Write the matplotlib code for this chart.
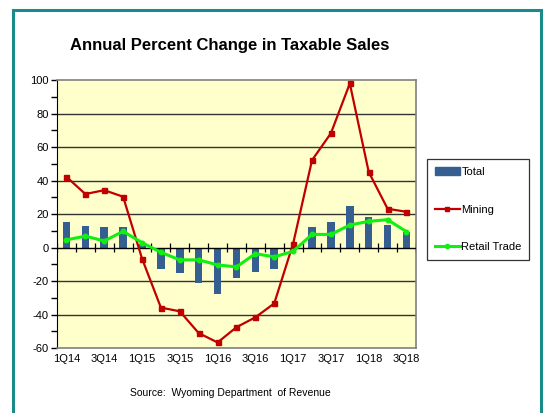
import matplotlib

matplotlib.use("Agg")
import matplotlib.pyplot as plt
import numpy as np
from matplotlib.lines import Line2D
from matplotlib.patches import Patch, Rectangle

plt.rcParams["font.family"] = ["Liberation Sans", "DejaVu Sans"]
plt.rcParams["axes.unicode_minus"] = False

quarters = [
    "1Q14", "2Q14", "3Q14", "4Q14",
    "1Q15", "2Q15", "3Q15", "4Q15",
    "1Q16", "2Q16", "3Q16", "4Q16",
    "1Q17", "2Q17", "3Q17", "4Q17",
    "1Q18", "2Q18", "3Q18",
]
total = [15.5, 13.1, 12.5, 12.5, 2.0, -13.0, -15.4, -21.0, -27.7, -18.4,
         -14.3, -12.7, -1.0, 12.1, 15.5, 24.6, 18.0, 13.3, 9.1]
mining = [42.3, 32.0, 34.3, 30.4, -6.5, -35.8, -38.0, -51.0, -56.6, -47.5,
          -41.6, -33.3, 2.4, 52.2, 68.3, 98.0, 45.2, 23.2, 21.4]
retail = [4.6, 6.9, 4.0, 9.7, 3.0, -2.8, -7.3, -7.3, -10.3, -11.5,
          -3.6, -5.5, -2.2, 7.9, 7.9, 13.5, 15.7, 16.7, 9.5]

BAR_COLOR = "#355e91"
RED = "#c00000"
GREEN = "#11ee11"
BG = "#ffffcc"

fig = plt.figure(figsize=(5.48, 4.13), dpi=100)
ax = fig.add_axes([0.104, 0.157, 0.655, 0.649])
ax.set_facecolor(BG)

x = np.arange(len(quarters))
ax.bar(x, total, width=0.4, color=BAR_COLOR, zorder=3)
ax.plot(x, mining, color=RED, lw=1.6, marker="s", ms=3.6, zorder=4)
ax.plot(x, retail, color=GREEN, lw=2.2, marker="o", ms=3.3, zorder=4)

# zero line with category boundary ticks
ax.axhline(0, color="black", lw=1.0, zorder=3.5)
ax.vlines(np.arange(len(quarters) + 1) - 0.5, -2.5, 2.5, color="black", lw=0.9, zorder=3.5)

ax.set_xlim(-0.5, len(quarters) - 0.5)
ax.set_ylim(-60, 100)
for yv in range(-40, 100, 20):
    if yv != 0:
        ax.axhline(yv, color="#333333", lw=1.0, zorder=1)

ax.set_yticks(range(-60, 101, 20))
ax.set_yticks(range(-60, 101, 10), minor=True)
ax.set_xticks(x[::2])
ax.set_xticklabels(quarters[::2])
ax.tick_params(axis="y", which="both", direction="out", length=4, width=1, labelsize=8, pad=2)
ax.tick_params(axis="x", length=0, labelsize=8, pad=4)

for side in ["top", "right"]:
    ax.spines[side].set_color("#808080")
    ax.spines[side].set_linewidth(1.2)
ax.spines["left"].set_color("black")
ax.spines["bottom"].set_color("#808080")
ax.spines["bottom"].set_linewidth(1.2)

fig.text(0.42, 0.891, "Annual Percent Change in Taxable Sales", ha="center", va="center",
         fontsize=12, fontweight="bold")
fig.text(0.42, 0.049, "Source:  Wyoming Department  of Revenue", ha="center", va="center",
         fontsize=7.5)

handles = [
    Patch(facecolor=BAR_COLOR, edgecolor=BAR_COLOR),
    Line2D([], [], color=RED, lw=1.6, marker="s", ms=3),
    Line2D([], [], color=GREEN, lw=2.2, marker="o", ms=3),
]
leg = fig.legend(handles, ["Total", "Mining", "Retail Trade"], loc="upper left",
                 bbox_to_anchor=(0.779, 0.615), borderaxespad=0, fontsize=8, frameon=True,
                 fancybox=False, edgecolor="black", borderpad=0.7, labelspacing=2.5,
                 handlelength=2.3, handletextpad=0.1, numpoints=1)
leg.get_frame().set_linewidth(0.9)

fig.patches.append(Rectangle((0.023, -0.05), 0.964, 1.025, transform=fig.transFigure,
                             fill=False, edgecolor="#1a8a8a", lw=2.2))

fig.savefig("out.png", dpi=100)
